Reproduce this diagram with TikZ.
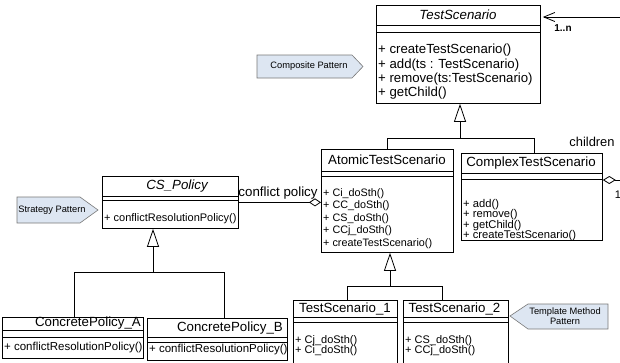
\documentclass[tikz,border=0pt]{standalone}
\usepackage{fontspec}
\setmainfont{Liberation Sans}
\usetikzlibrary{arrows.meta,calc,shadows}
\definecolor{callfill}{RGB}{221,230,242}
\definecolor{callline}{RGB}{120,120,120}
\begin{document}
\begin{tikzpicture}[x=1pt,y=-1pt,
 cls/.style={draw=black,line width=0.8pt,fill=white,inner sep=0pt,anchor=north west,
   general shadow={shadow xshift=0.8pt,shadow yshift=-0.8pt,fill=black}},
 sep/.style={draw=black,line width=0.8pt},
 ttl/.style={inner sep=0pt,font=\fontsize{13.3}{15}\selectfont},
 meth/.style={inner sep=0pt,anchor=west,align=left},
 conn/.style={draw=black,line width=0.7pt},
 gen/.style={conn,-{Triangle[open,length=18pt,width=12pt,line width=0.8pt]}},
 agg/.style={conn,-{Diamond[open,length=12pt,width=8pt,line width=0.8pt]}},
 callout/.style={fill=callfill,draw=callline,line width=0.6pt},
 calltext/.style={inner sep=0pt,font=\fontsize{9.3}{10.5}\selectfont,align=center},
 lbl/.style={inner sep=0pt}
]
\useasboundingbox (0,0) rectangle (620,362);
\clip (0,0) rectangle (620,362);

% ---- callouts
\path[callout] (257,55) -- (352,55) -- (363,66.5) -- (352,78) -- (257,78) -- cycle;
\node[calltext] (cpat) at (309,66.5) {Composite Pattern};
\path[callout] (17,197) -- (80,197) -- (98,210) -- (80,223) -- (17,223) -- cycle;
\node[calltext] (spat) at (52,210) {Strategy Pattern};
\path[callout] (510,316) -- (528,304) -- (608,304) -- (608,329) -- (528,329) -- cycle;
\node[calltext] (tpat) at (565,316) {Template Method\\Pattern};

% ---- TestScenario
\node[cls,minimum width=164pt,minimum height=98pt] (ts) at (376,5) {};
\draw[sep] (ts.west |- 0,25) -- (ts.east |- 0,25);
\draw[sep] (ts.west |- 0,32) -- (ts.east |- 0,32);
\node[ttl,font=\fontsize{13.3}{15}\selectfont\itshape] (tst) at (458,15) {TestScenario};
\node[meth,font=\fontsize{13.2}{14.3}\selectfont] (tsm) at (378,72)
  {+ createTestScenario()\\+ add(ts : TestScenario)\\+ remove(ts:TestScenario)\\+ getChild()};

% ---- AtomicTestScenario
\node[cls,minimum width=132pt,minimum height=103pt] (ats) at (321,149) {};
\draw[sep] (ats.west |- 0,171) -- (ats.east |- 0,171);
\draw[sep] (ats.west |- 0,176) -- (ats.east |- 0,176);
\node[ttl] (atst) at (387,160) {AtomicTestScenario};
\node[meth,font=\fontsize{10.8}{12.5}\selectfont] (atsm) at (323,218.5)
  {+ Ci\_doSth()\\+ CC\_doSth()\\+ CS\_doSth()\\+ CCj\_doSth()\\+ createTestScenario()};

% ---- ComplexTestScenario
\node[cls,minimum width=141pt,minimum height=87pt] (cts) at (461,153) {};
\draw[sep] (cts.west |- 0,173) -- (cts.east |- 0,173);
\draw[sep] (cts.west |- 0,179) -- (cts.east |- 0,179);
\node[ttl] (ctst) at (531,163) {ComplexTestScenario};
\node[meth,font=\fontsize{11.2}{10.6}\selectfont] (ctsm) at (463,220)
  {+ add()\\+ remove()\\+ getChild()\\+ createTestScenario()};

% ---- CS_Policy
\node[cls,minimum width=136pt,minimum height=52pt] (csp) at (102,176) {};
\draw[sep] (csp.west |- 0,196) -- (csp.east |- 0,196);
\draw[sep] (csp.west |- 0,200) -- (csp.east |- 0,200);
\node[ttl,font=\fontsize{13.3}{15}\selectfont\itshape] (cspt) at (177,186) {CS\_Policy};
\node[meth,font=\fontsize{11}{12}\selectfont] (cspm) at (104,218.5) {+ conflictResolutionPolicy()};

% ---- ConcretePolicy_A
\node[cls,minimum width=141pt,minimum height=41pt] (cpa) at (2,317) {};
\draw[sep] (cpa.west |- 0,330) -- (cpa.east |- 0,330);
\draw[sep] (cpa.west |- 0,337) -- (cpa.east |- 0,337);
\node[ttl,anchor=east] (cpat) at (141,323.5) {ConcretePolicy\_A};
\node[meth,font=\fontsize{11.5}{12}\selectfont] (cpam) at (4,348) {+ conflictResolutionPolicy()};

% ---- ConcretePolicy_B
\node[cls,minimum width=140pt,minimum height=42pt] (cpb) at (147,318) {};
\draw[sep] (cpb.west |- 0,337) -- (cpb.east |- 0,337);
\draw[sep] (cpb.west |- 0,342) -- (cpb.east |- 0,342);
\node[ttl,anchor=east] (cpbt) at (283,328) {ConcretePolicy\_B};
\node[meth,font=\fontsize{11.5}{12}\selectfont] (cpbm) at (149,350) {+ conflictResolutionPolicy()};

% ---- TestScenario_1
\node[cls,minimum width=104pt,minimum height=70pt] (ts1) at (293,300) {};
\draw[sep] (ts1.west |- 0,317) -- (ts1.east |- 0,317);
\draw[sep] (ts1.west |- 0,322) -- (ts1.east |- 0,322);
\node[ttl] (ts1t) at (345,309) {TestScenario\_1};
\node[meth,font=\fontsize{11}{10.5}\selectfont] (ts1m) at (295,345.5) {+ Cj\_doSth()\\+ Ci\_doSth()};

% ---- TestScenario_2
\node[cls,minimum width=105pt,minimum height=70pt] (ts2) at (403,300) {};
\draw[sep] (ts2.west |- 0,317) -- (ts2.east |- 0,317);
\draw[sep] (ts2.west |- 0,322) -- (ts2.east |- 0,322);
\node[ttl] (ts2t) at (454.5,309) {TestScenario\_2};
\node[meth,font=\fontsize{11}{10.5}\selectfont] (ts2m) at (405,345.5) {+ CS\_doSth()\\+ CCj\_doSth()};

% ---- generalizations
\coordinate (j1) at (460,138);
\draw[conn] (ats.north) |- (j1);
\draw[conn] ($(cts.north)+(2,0)$) |- (j1);
\draw[gen] (j1) -- (j1 |- ts.south);

\coordinate (j2) at (153,272);
\draw[conn] ($(cpa.north)+(1.5,0)$) |- (j2);
\draw[conn] ($(cpb.north)+(7,0)$) |- (j2);
\draw[gen] (j2) -- (j2 |- csp.south);

\coordinate (j3) at (390,286);
\draw[conn] ($(ts1.north)+(2,0)$) |- (j3);
\draw[conn] ($(ts2.north)+(-13.5,0)$) |- (j3);
\draw[gen] (j3) -- (j3 |- ats.south);

% ---- aggregations
\draw[agg] (csp.east) -- (csp.east -| ats.west);
\node[lbl,font=\fontsize{13.3}{15}\selectfont] (cpl) at (278,193) {conflict policy};

\coordinate (c1) at (630,180);
\coordinate (c2) at (630,17);
\draw[conn,{Diamond[open,length=13pt,width=8pt,line width=0.8pt]}-{Straight Barb[length=11pt,width=9pt,line width=0.8pt]},shorten >=2pt]
  (cts.east |- 0,180) -- (c1) -- (c2) -- (c2 -| ts.east);
\node[lbl,font=\fontsize{12.9}{14}\selectfont] (chl) at (592,142) {children};
\node[lbl,font=\fontsize{10}{11}\selectfont\bfseries] (mul1) at (563,28) {1..n};
\node[lbl,font=\fontsize{11}{12}\selectfont] (mul2) at (618,195) {1};
\end{tikzpicture}
\end{document}
